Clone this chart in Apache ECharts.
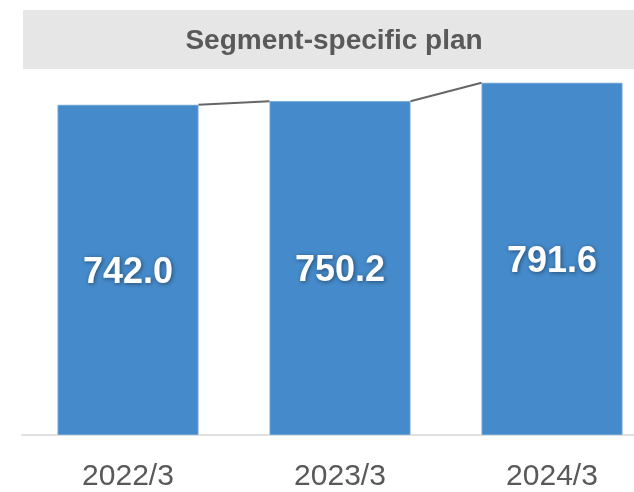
<!DOCTYPE html>
<html>
<head>
<meta charset="utf-8">
<script src="https://cdn.jsdelivr.net/npm/echarts@6/dist/echarts.min.js"></script>
<style>
  html, body { margin: 0; padding: 0; background: #ffffff; overflow: hidden; }
  /* The plot runs past the right edge of the view, so the canvas is wider than the window */
  #chart { width: 658px; height: 492px; }
</style>
</head>
<body>
<div id="chart"></div>
<script>
// Fiscal year-end periods and planned values
const periods = ['2022/3', '2023/3', '2024/3'];
const planValues = [742.0, 750.2, 791.6];
const chartTitle = 'Segment-specific plan';

const BAR_WIDTH = 141;
const FONT = '"Liberation Sans", Arial, Helvetica, sans-serif';

const chart = echarts.init(document.getElementById('chart'));

// Step connectors: from the right top corner of each bar to the left top of the next
function renderConnector(params, api) {
  const i = api.value(0);
  if (i >= planValues.length - 1) return null;
  const p0 = api.coord([i, planValues[i]]);
  const p1 = api.coord([i + 1, planValues[i + 1]]);
  const half = BAR_WIDTH / 2;
  return {
    type: 'line',
    shape: { x1: p0[0] + half, y1: p0[1], x2: p1[0] - half, y2: p1[1] },
    style: { stroke: '#666666', lineWidth: 2 },
    z2: 10
  };
}

chart.setOption({
  animation: false,
  backgroundColor: '#ffffff',
  graphic: [
    {
      type: 'rect',
      shape: { x: 23, y: 10, width: 640, height: 59 },
      style: { fill: '#e6e6e6' },
      z: 0
    },
    {
      type: 'text',
      x: 334,
      y: 41,
      style: {
        text: chartTitle,
        font: 'bold 28px ' + FONT,
        fill: '#595959',
        align: 'center',
        verticalAlign: 'middle'
      },
      z: 1
    }
  ],
  grid: { left: 22, right: 0, top: 79, bottom: 52, containLabel: false },
  xAxis: {
    type: 'category',
    data: periods,
    axisLine: { show: true, lineStyle: { color: '#e0e0e0', width: 2 } },
    axisTick: { show: false },
    axisLabel: {
      color: '#595959',
      fontFamily: FONT,
      fontSize: 30,
      margin: 27
    }
  },
  yAxis: {
    type: 'value',
    min: 0,
    max: 800,
    show: false,
    splitLine: { show: false }
  },
  series: [
    {
      type: 'bar',
      data: planValues,
      barWidth: BAR_WIDTH,
      itemStyle: { color: '#458aca', borderColor: '#6aa2d6', borderWidth: 1 },
      label: {
        show: true,
        position: 'inside',
        offset: [0, 3],
        formatter: p => p.value.toFixed(1),
        color: '#ffffff',
        fontFamily: FONT,
        fontWeight: 'bold',
        fontSize: 36,
        textShadowColor: 'rgba(0,0,0,0.45)',
        textShadowBlur: 4,
        textShadowOffsetX: 1,
        textShadowOffsetY: 1
      },
      z: 2
    },
    {
      type: 'custom',
      data: periods.map((_, i) => [i]),
      renderItem: renderConnector,
      silent: true,
      z: 3
    }
  ]
});
</script>
</body>
</html>
